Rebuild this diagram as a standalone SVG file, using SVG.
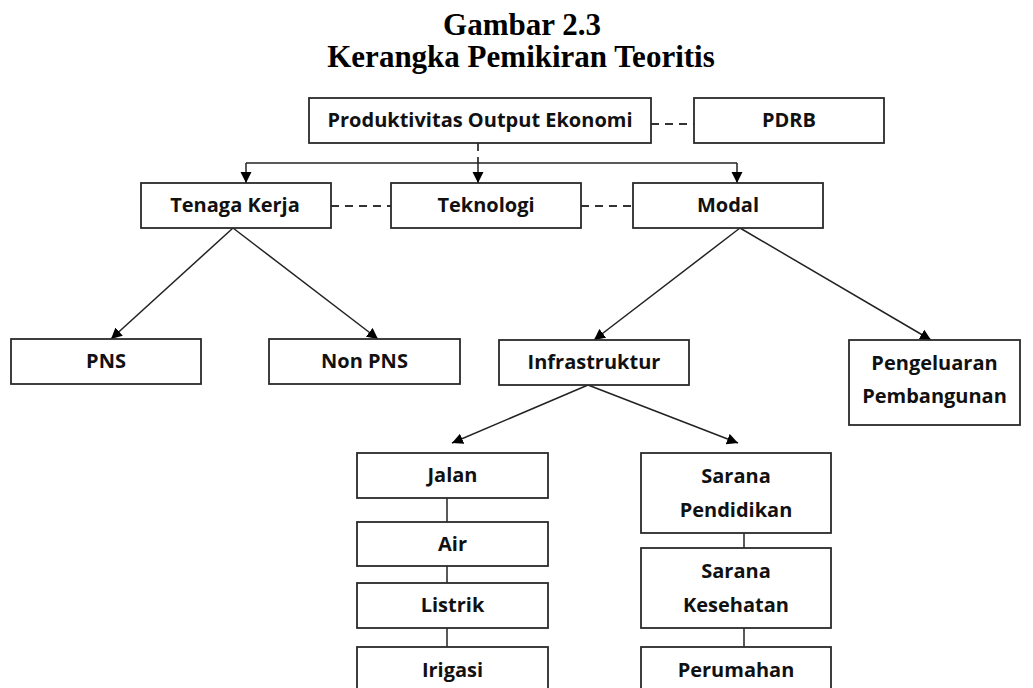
<svg xmlns="http://www.w3.org/2000/svg" width="1033" height="688" viewBox="0 0 1033 688">
<style>
.box{fill:#fff;stroke:#2a2a2a;stroke-width:1.8}
.lbl{font-family:"Open Sans",Lato,"Liberation Sans",sans-serif;font-weight:bold;font-size:20px;fill:#111;text-anchor:middle}
.ttl{font-family:"Liberation Serif","Times New Roman",serif;font-weight:bold;font-size:31px;fill:#000;text-anchor:middle}
.ln{fill:none;stroke:#222;stroke-width:1.5}
.dash{fill:none;stroke:#333;stroke-width:1.8;stroke-dasharray:8 6}
.arr{fill:none;stroke:#222;stroke-width:1.5;marker-end:url(#ah)}
</style>
<defs>
<marker id="ah" markerUnits="userSpaceOnUse" markerWidth="12" markerHeight="12" refX="11" refY="5.5" orient="auto" viewBox="0 0 12 11">
<path d="M0,0 L11,5.5 L0,11 z" fill="#000"/>
</marker>
</defs>
<rect width="1033" height="688" fill="#fff"/>
<g id="title">
<text class="ttl" x="522" y="35">Gambar 2.3</text>
<text class="ttl" x="521" y="67">Kerangka Pemikiran Teoritis</text>
</g>
<g id="connectors">
<line class="dash" x1="651" y1="124" x2="694" y2="124"/>
<line class="dash" x1="478" y1="143" x2="478" y2="163" stroke-dasharray="7 4"/>
<line class="ln" x1="246" y1="163" x2="737" y2="163"/>
<line class="arr" x1="246" y1="163" x2="246" y2="183"/>
<line class="arr" x1="478" y1="163" x2="478" y2="183"/>
<line class="arr" x1="737" y1="163" x2="737" y2="183"/>
<line class="dash" x1="331" y1="206" x2="391" y2="206"/>
<line class="dash" x1="581" y1="206" x2="633" y2="206"/>
<line class="arr" x1="233" y1="228" x2="111" y2="339"/>
<line class="arr" x1="233" y1="228" x2="378" y2="339"/>
<line class="arr" x1="740" y1="228" x2="594" y2="340"/>
<line class="arr" x1="740" y1="228" x2="931" y2="340"/>
<line class="arr" x1="588" y1="385" x2="452" y2="443"/>
<line class="arr" x1="588" y1="385" x2="738" y2="443"/>
<line class="ln" x1="447" y1="498" x2="447" y2="522"/>
<line class="ln" x1="447" y1="566" x2="447" y2="583"/>
<line class="ln" x1="447" y1="628" x2="447" y2="647"/>
<line class="ln" x1="744" y1="533" x2="744" y2="548"/>
<line class="ln" x1="744" y1="628" x2="744" y2="647"/>
</g>
<g id="n-produktivitas"><rect class="box" x="309" y="98" width="342" height="45"/><text class="lbl" x="480" y="127">Produktivitas Output Ekonomi</text></g>
<g id="n-pdrb"><rect class="box" x="694" y="98" width="190" height="45"/><text class="lbl" x="789" y="127">PDRB</text></g>
<g id="n-tenaga"><rect class="box" x="141" y="183" width="190" height="45"/><text class="lbl" x="235" y="212">Tenaga Kerja</text></g>
<g id="n-teknologi"><rect class="box" x="391" y="183" width="190" height="45"/><text class="lbl" x="486" y="212">Teknologi</text></g>
<g id="n-modal"><rect class="box" x="633" y="183" width="190" height="45"/><text class="lbl" x="728" y="212">Modal</text></g>
<g id="n-pns"><rect class="box" x="11" y="339" width="190" height="45"/><text class="lbl" x="106" y="368">PNS</text></g>
<g id="n-nonpns"><rect class="box" x="269" y="339" width="191" height="45"/><text class="lbl" x="364.5" y="368">Non PNS</text></g>
<g id="n-infra"><rect class="box" x="499" y="340" width="190" height="45"/><text class="lbl" x="594" y="369">Infrastruktur</text></g>
<g id="n-pengeluaran"><rect class="box" x="849" y="340" width="171" height="85"/><text class="lbl" x="934.5" y="370">Pengeluaran</text><text class="lbl" x="934.5" y="403">Pembangunan</text></g>
<g id="n-jalan"><rect class="box" x="357" y="453" width="191" height="45"/><text class="lbl" x="452.5" y="482">Jalan</text></g>
<g id="n-air"><rect class="box" x="357" y="522" width="191" height="44"/><text class="lbl" x="452.5" y="550.5">Air</text></g>
<g id="n-listrik"><rect class="box" x="357" y="583" width="191" height="45"/><text class="lbl" x="452.5" y="612">Listrik</text></g>
<g id="n-irigasi"><rect class="box" x="357" y="647" width="191" height="50"/><text class="lbl" x="452.5" y="677">Irigasi</text></g>
<g id="n-pendidikan"><rect class="box" x="641" y="453" width="190" height="80"/><text class="lbl" x="736" y="483">Sarana</text><text class="lbl" x="736" y="517">Pendidikan</text></g>
<g id="n-kesehatan"><rect class="box" x="641" y="548" width="190" height="80"/><text class="lbl" x="736" y="578">Sarana</text><text class="lbl" x="736" y="612">Kesehatan</text></g>
<g id="n-perumahan"><rect class="box" x="641" y="647" width="190" height="50"/><text class="lbl" x="736" y="677">Perumahan</text></g>
</svg>
